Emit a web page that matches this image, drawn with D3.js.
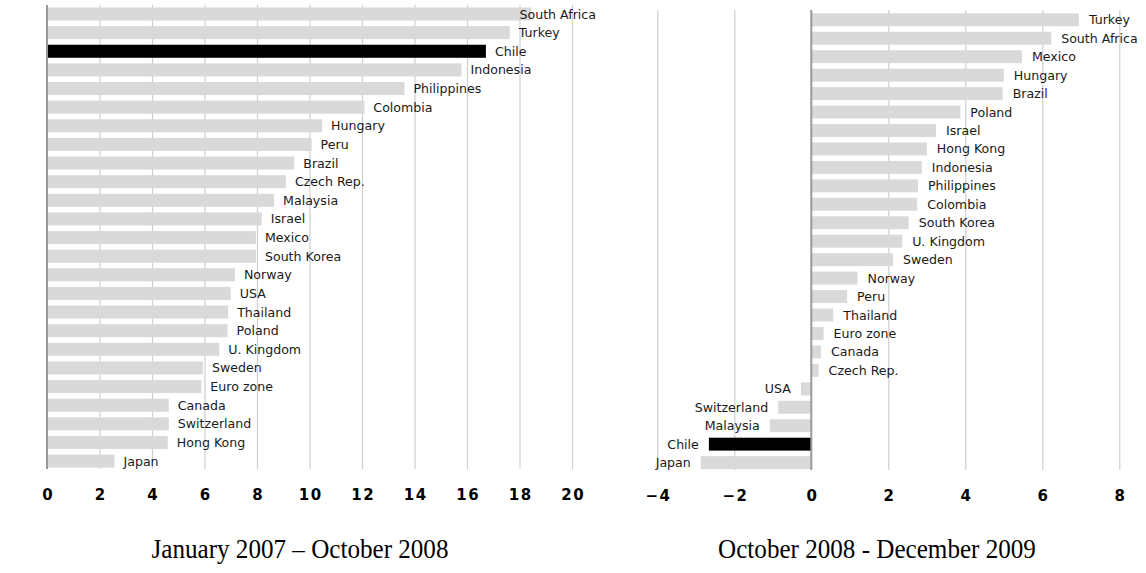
<!DOCTYPE html>
<html>
<head>
<meta charset="utf-8">
<script src="https://cdn.jsdelivr.net/npm/d3@7"></script>
<style>
  html, body { margin: 0; padding: 0; background: #fff; }
  svg { display: block; }
  .lbl { font-family: "DejaVu Sans", sans-serif; font-size: 12.6px; fill: #1a1a1a; }
  .tick text { font-family: "DejaVu Sans", sans-serif; font-weight: bold; font-size: 15px; fill: #000; letter-spacing: 1.5px; }
  .title { font-family: "Liberation Serif", "Times New Roman", serif; font-size: 27px; fill: #000; }
</style>
</head>
<body>
<svg id="chart" width="1146" height="573"></svg>
<script>
// ---- Data ----
const leftCategories = ["South Africa","Turkey","Chile","Indonesia","Philippines","Colombia","Hungary","Peru","Brazil","Czech Rep.","Malaysia","Israel","Mexico","South Korea","Norway","USA","Thailand","Poland","U. Kingdom","Sweden","Euro zone","Canada","Switzerland","Hong Kong","Japan"];
const leftValues = [18.45,17.63,16.72,15.79,13.62,12.09,10.48,10.08,9.42,9.10,8.65,8.18,7.96,7.96,7.16,7.0,6.9,6.88,6.56,5.94,5.88,4.64,4.64,4.6,2.57];

const rightCategories = ["Turkey","South Africa","Mexico","Hungary","Brazil","Poland","Israel","Hong Kong","Indonesia","Philippines","Colombia","South Korea","U. Kingdom","Sweden","Norway","Peru","Thailand","Euro zone","Canada","Czech Rep.","USA","Switzerland","Malaysia","Chile","Japan"];
const rightValues = [6.95,6.23,5.47,5.0,4.97,3.87,3.24,3.0,2.87,2.77,2.75,2.53,2.36,2.12,1.2,0.93,0.57,0.32,0.25,0.19,-0.27,-0.86,-1.08,-2.66,-2.87];

const leftTicks = [0,2,4,6,8,10,12,14,16,18,20];
const rightTicks = [-4,-2,0,2,4,6,8];

const leftTitle = "January 2007 \u2013 October 2008";
const rightTitle = "October 2008 - December 2009";
const highlight = "Chile";

// ---- Drawing ----
const svg = d3.select("#chart");

function panel(cfg) {
  const g = svg.append("g");
  const x = d3.scaleLinear().domain(cfg.domain).range(cfg.xRange);
  const y = d3.scaleBand().domain(cfg.categories).range(cfg.yRange).paddingInner(0.3).paddingOuter(0.3);

  // grid lines
  const grid = g.append("g")
    .attr("transform", `translate(0,${cfg.gridBottom})`)
    .call(d3.axisBottom(x).tickValues(cfg.ticks.filter(t => t !== 0))
      .tickSize(-(cfg.gridBottom - cfg.gridTop)).tickFormat(""));
  grid.select(".domain").remove();
  grid.selectAll(".tick line").attr("stroke", "#cfcfcf").attr("stroke-width", 1.2);

  // bars
  const data = cfg.categories.map((c, i) => ({ c, v: cfg.values[i] }));
  g.selectAll("rect.bar").data(data).join("rect")
    .attr("class", "bar")
    .attr("x", d => x(Math.min(0, d.v)))
    .attr("width", d => Math.abs(x(d.v) - x(0)))
    .attr("y", d => y(d.c))
    .attr("height", y.bandwidth())
    .attr("fill", d => d.c === highlight ? "#000" : "#d9d9d9");

  // zero axis line
  g.append("line")
    .attr("x1", x(0)).attr("x2", x(0))
    .attr("y1", cfg.gridTop).attr("y2", cfg.gridBottom)
    .attr("stroke", "#9a9a9a").attr("stroke-width", 2);

  // bar labels
  const labels = g.selectAll("text.lbl").data(data).join("text")
    .attr("class", "lbl")
    .attr("y", d => y(d.c) + y.bandwidth() / 2)
    .attr("dy", "0.36em")
    .attr("text-anchor", d => d.v >= 0 ? "start" : "end")
    .text(d => d.c);
  labels.each(function(d) {
    const w = this.getComputedTextLength();
    let px;
    if (d.v >= 0) {
      px = x(d.v) + cfg.gap;
      if (px + w > cfg.maxRight) px = cfg.maxRight - w;
    } else {
      px = x(d.v) - cfg.gap;
    }
    d3.select(this).attr("x", px);
  });

  // tick labels
  const ax = g.append("g")
    .attr("transform", `translate(0,${cfg.gridBottom})`)
    .call(d3.axisBottom(x).tickValues(cfg.ticks).tickSize(0).tickPadding(20).tickFormat(d3.format("d")));
  ax.select(".domain").remove();
  ax.selectAll(".tick text").attr("dx", "0.75px");

  // title (slightly condensed serif)
  svg.append("g")
    .attr("transform", `translate(${cfg.titleX},558) scale(0.93,1)`)
    .append("text").attr("class", "title")
    .attr("x", 0).attr("y", 0)
    .attr("text-anchor", "middle")
    .text(cfg.title);
}

panel({
  categories: leftCategories, values: leftValues, ticks: leftTicks,
  domain: [0, 20], xRange: [47, 572], yRange: [1.9, 473.2],
  gridTop: 5, gridBottom: 469, gap: 9, maxRight: 596,
  title: leftTitle, titleX: 300
});

panel({
  categories: rightCategories, values: rightValues, ticks: rightTicks,
  domain: [-4, 8], xRange: [657.3, 1119.3], yRange: [7.8, 474.6],
  gridTop: 10, gridBottom: 470, gap: 10, maxRight: 1143,
  title: rightTitle, titleX: 877
});
</script>
</body>
</html>
